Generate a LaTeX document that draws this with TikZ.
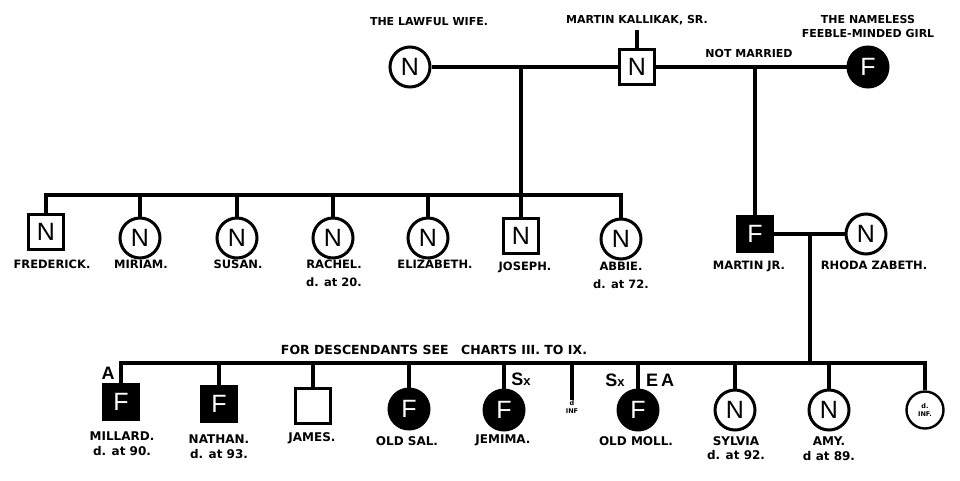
\documentclass[tikz,border=0pt]{standalone}
\usepackage{fontspec}
\setmainfont{DejaVu Sans}
\newfontfamily\symfont{Liberation Sans}
\usetikzlibrary{calc}
\tikzset{
  tie/.style={line width=3.2pt},
  person/.style={draw, line width=3pt, inner sep=0pt, font=\symfont\fontsize{25}{25}\selectfont},
  male/.style={person, rectangle, minimum size=35.5pt},
  female/.style={person, circle, minimum size=40pt},
  feeble/.style={fill=black, text=white},
  namelbl/.style={anchor=north, inner sep=0pt, align=center, font=\bfseries\fontsize{11.5}{18}\selectfont},
  lowlbl/.style={namelbl, font=\bfseries\fontsize{12}{14.5}\selectfont},
  headlbl/.style={inner sep=0pt, align=center, font=\bfseries\fontsize{11}{14}\selectfont},
  marklbl/.style={inner sep=0pt, font=\symfont\bfseries\fontsize{18}{18}\selectfont},
  tinylbl/.style={inner sep=0pt, align=center, font=\bfseries\fontsize{6.5}{8.5}\selectfont}
}

\begin{document}
\begin{tikzpicture}[x=1pt, y=-1pt]
\useasboundingbox[fill=white] (0,0) rectangle (960,480);

% first generation
\node[female] (wife) at (410,67) {N};
\node[male] (sr) at (637,67) {N};
\node[female, feeble] (girl) at (868,67) {F};
\coordinate (srtop) at (637,30);
\coordinate (wed) at (521,67);
\coordinate (affair) at (755,67);
\draw[tie] (wife) -- (sr) -- (girl);
\draw[tie] (sr.north) -- (srtop);
\node[headlbl] (wifelbl) at (429,22) {THE LAWFUL WIFE.};
\node[headlbl] (srlbl) at (637,20) {MARTIN KALLIKAK, SR.};
\node[headlbl] (girllbl) at (868,26) {THE NAMELESS\\FEEBLE-MINDED GIRL};
\node[headlbl] (notmar) at (749,53) {NOT MARRIED};

% legitimate line
\coordinate (sibs) at (521,195);
\node[male] (fred) at (46,232) {N};
\node[female] (miriam) at (140,238) {N};
\node[female] (susan) at (237,238) {N};
\node[female] (rachel) at (333,238) {N};
\node[female] (eliz) at (428,238) {N};
\node[male] (joseph) at (521,236) {N};
\node[female] (abbie) at (621,239) {N};
\draw[tie] (wed) -- (joseph.north);
\draw[tie] (fred.north) |- (sibs) -| (abbie.north);
\foreach \k in {miriam, susan, rachel, eliz}
  \draw[tie] (\k.north) -- (\k.north |- sibs);
\node[namelbl] at (52,260) {FREDERICK.};
\node[namelbl] at (141,260) {MIRIAM.};
\node[namelbl] at (238,260) {SUSAN.};
\node[namelbl] at (334,260) {RACHEL.\\d. at 20.};
\node[namelbl] at (435,260) {ELIZABETH.};
\node[namelbl] at (525,262) {JOSEPH.};
\node[namelbl] at (621,262) {ABBIE.\\d. at 72.};

% illegitimate line
\node[male, feeble] (jr) at (755,234) {F};
\node[female] (rhoda) at (866,234) {N};
\coordinate (wed2) at (810,234);
\coordinate (kids) at (810,363);
\draw[tie] (affair) -- (jr.north);
\draw[tie] (jr) -- (rhoda);
\draw[tie] (wed2) -- (kids);
\node[namelbl] at (749,261) {MARTIN JR.};
\node[namelbl] at (874,261) {RHODA ZABETH.};

% third generation
\node[male, feeble] (millard) at (121,402) {F};
\node[male, feeble] (nathan) at (219,404) {F};
\node[male] (james) at (313,406) {};
\node[female, feeble] (sal) at (409,409) {F};
\node[female, feeble] (jemima) at (504,410) {F};
\node[tinylbl] (inf) at (572,407) {d\\INF};
\node[female, feeble] (moll) at (638,410) {F};
\node[female] (sylvia) at (735,410) {N};
\node[female] (amy) at (829,410) {N};
\node[circle, draw, line width=2.4pt, minimum size=37pt, tinylbl] (baby) at (925,410) {d.\\INF.};
\draw[tie] (millard.north) |- (kids) -| (baby.north);
\foreach \k in {nathan, james, sal, jemima, inf, moll, sylvia, amy}
  \draw[tie] (\k.north) -- (\k.north |- kids);
\node[headlbl, font=\bfseries\fontsize{12.5}{14}\selectfont] at (434,350) {FOR DESCENDANTS SEE\quad CHARTS III. TO IX.};
\node[marklbl] at (108,373) {A};
\node[marklbl] at (521,379) {S{\fontsize{13}{13}\selectfont x}};
\node[marklbl] at (615,380) {S{\fontsize{13}{13}\selectfont x}};
\node[marklbl] at (660,380) {E\,A};
\node[lowlbl] at (122,432) {MILLARD.\\d. at 90.};
\node[lowlbl] at (219,435) {NATHAN.\\d. at 93.};
\node[lowlbl] at (312,432) {JAMES.};
\node[lowlbl] at (407,436) {OLD SAL.};
\node[lowlbl] at (503,435) {JEMIMA.};
\node[lowlbl] at (636,436) {OLD MOLL.};
\node[lowlbl] at (736,436) {SYLVIA\\d. at 92.};
\node[lowlbl] at (829,437) {AMY.\\d at 89.};
\end{tikzpicture}
\end{document}
